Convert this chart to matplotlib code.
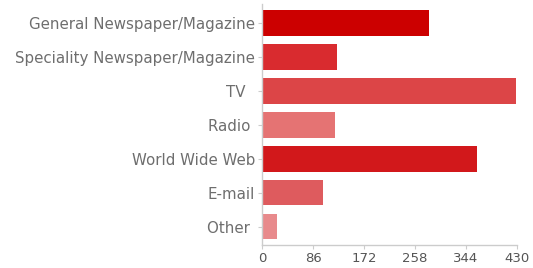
import matplotlib

matplotlib.use("Agg")

import matplotlib.pyplot as plt

plt.rcParams["font.family"] = ["DejaVu Sans"]

categories = [
    "General Newspaper/Magazine",
    "Speciality Newspaper/Magazine",
    "TV\u00a0\u00a0",
    "Radio\u00a0",
    "World Wide Web",
    "E-mail",
    "Other\u00a0",
]
values = [282, 126, 429, 123, 363, 102, 26]
colors = ["#cc0000", "#d92b2f", "#dc4547", "#e57373", "#d2181b", "#de5b5e", "#e88a8c"]
xticks = [0, 86, 172, 258, 344, 430]

fig = plt.figure(figsize=(5.33, 2.68), dpi=100)
ax = fig.add_axes([0.4916, 0.085, 0.4784, 0.9])

pos = list(range(len(categories)))
ax.barh(pos, values, height=0.76, color=colors, edgecolor="none")
ax.set_ylim(len(categories) - 0.5 + 0.05, -0.55)
ax.set_xlim(0, 430)
ax.set_yticks(pos)
ax.set_yticklabels(categories)
ax.set_xticks(xticks)

for side in ("top", "right"):
    ax.spines[side].set_visible(False)
for side in ("left", "bottom"):
    ax.spines[side].set_color("#cccccc")
    ax.spines[side].set_linewidth(1.0)

ax.tick_params(axis="y", length=3, color="#cccccc", labelsize=10.8, labelcolor="#6e6e6e", pad=2)
ax.tick_params(axis="x", length=3, color="#cccccc", labelsize=9.5, labelcolor="#555555", pad=2)

fig.savefig("out.png", dpi=100)
